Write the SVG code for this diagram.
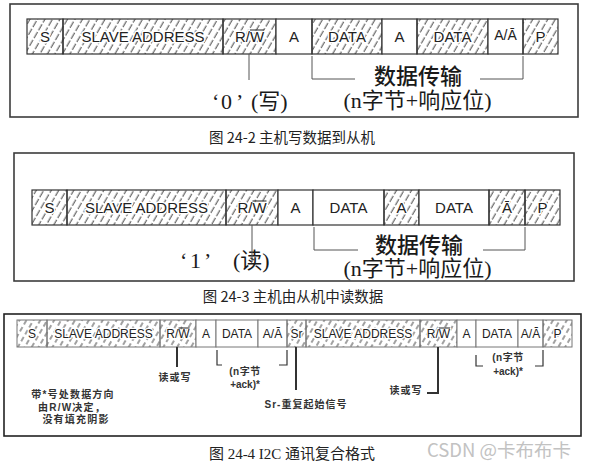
<svg xmlns="http://www.w3.org/2000/svg" width="590" height="467" viewBox="0 0 590 467">
<defs>
<pattern id="hatch" patternUnits="userSpaceOnUse" width="6.5" height="9" patternTransform="rotate(30)">
<line x1="3" y1="0" x2="3" y2="9" stroke="#444" stroke-width="1" stroke-dasharray="7 2"/>
</pattern>
<pattern id="hatch3" patternUnits="userSpaceOnUse" width="6" height="8" patternTransform="rotate(30)">
<line x1="3" y1="0" x2="3" y2="8" stroke="#444" stroke-width="1" stroke-dasharray="5 3"/>
</pattern>
</defs>
<style>
.frame{fill:none;stroke:#3c3c3c;stroke-width:1.6}
.hb{fill:url(#hatch);stroke:#333;stroke-width:1.2}
.wb{fill:#fff;stroke:#333;stroke-width:1.2}
.hb3{fill:url(#hatch3);stroke:#777;stroke-width:1}
.wb3{fill:#fff;stroke:#777;stroke-width:1}
.lbl{font-family:"Liberation Sans",Arial,sans-serif;font-size:15px;fill:#222;text-anchor:middle;stroke:#fff;stroke-width:3px;paint-order:stroke;stroke-linejoin:round}
.lbl3{font-family:"Liberation Sans",Arial,sans-serif;font-size:12px;fill:#222;text-anchor:middle;stroke:#fff;stroke-width:2.5px;paint-order:stroke;stroke-linejoin:round}
.ol{stroke:#222;stroke-width:1}
.conn{fill:none;stroke:#555;stroke-width:1}
.conn3{fill:none;stroke:#333;stroke-width:2}
.brk3{fill:none;stroke:#333;stroke-width:1.2}
.big{font-family:"Liberation Serif","Noto Sans CJK SC",serif;font-size:22px;fill:#1a1a1a}
.cjk{font-family:"Noto Sans CJK SC",sans-serif;font-size:22px;fill:#1a1a1a;text-anchor:middle;font-weight:500}
.cap{font-family:"Noto Sans CJK SC",sans-serif;font-size:14.5px;fill:#222;text-anchor:middle}
.note{font-family:"Liberation Sans","Noto Sans CJK SC",sans-serif;font-size:10px;font-weight:bold;fill:#333;text-anchor:middle;letter-spacing:1px}
.wm{font-family:"Noto Sans CJK SC",sans-serif;font-size:18.5px;fill:#c2c2c2;text-anchor:middle}
</style>
<rect x="0" y="0" width="590" height="467" fill="#fff"/>

<!-- Panel 1 -->
<g id="panel1">
<rect class="frame" x="10" y="4" width="568" height="113"/>
<g id="p1-s"><rect class="hb" x="27" y="19" width="36" height="35"/><text class="lbl" x="45" y="42">S</text></g>
<g id="p1-addr"><rect class="hb" x="63" y="19" width="160" height="35"/><text class="lbl" x="143" y="42">SLAVE ADDRESS</text></g>
<g id="p1-rw"><rect class="hb" x="223" y="19" width="53" height="35"/><text class="lbl" x="249.5" y="42">R/W</text><line class="ol" x1="250" y1="30" x2="264" y2="30"/></g>
<g id="p1-a1"><rect class="wb" x="276" y="19" width="36" height="35"/><text class="lbl" x="294" y="42">A</text></g>
<g id="p1-d1"><rect class="hb" x="312" y="19" width="70" height="35"/><text class="lbl" x="347" y="42">DATA</text></g>
<g id="p1-a2"><rect class="wb" x="382" y="19" width="35" height="35"/><text class="lbl" x="399.5" y="42">A</text></g>
<g id="p1-d2"><rect class="hb" x="417" y="19" width="71" height="35"/><text class="lbl" x="452.5" y="42">DATA</text></g>
<g id="p1-aa"><rect class="wb" x="488" y="19" width="35" height="35"/><text class="lbl" x="505.5" y="40" style="font-size:14px">A/Ā</text></g>
<g id="p1-p"><rect class="hb" x="523" y="19" width="35" height="35"/><text class="lbl" x="540.5" y="42">P</text></g>
<g id="p1-note0"><text class="big" x="212" y="109">‘<tspan x="221">0</tspan><tspan x="236">’</tspan><tspan x="251">(写)</tspan></text></g>
<g id="p1-data"><text class="cjk" x="418" y="84">数据传输</text><text class="big" x="417.5" y="108" text-anchor="middle">(n字节+响应位)</text></g>
</g>
<g id="p1-connectors">
<line class="conn" x1="249" y1="54" x2="249" y2="80"/>
<polyline class="conn" points="312,56 312,79 355,79"/>
<polyline class="conn" points="480,79 523,79 523,56"/>
</g>
<text class="cap" x="292" y="143">图 24-2 主机写数据到从机</text>

<!-- Panel 2 -->
<g id="panel2">
<rect class="frame" x="14" y="153" width="560" height="128"/>
<g id="p2-s"><rect class="hb" x="32" y="190" width="35" height="35"/><text class="lbl" x="49.5" y="213">S</text></g>
<g id="p2-addr"><rect class="hb" x="67" y="190" width="159" height="35"/><text class="lbl" x="146.5" y="213">SLAVE ADDRESS</text></g>
<g id="p2-rw"><rect class="hb" x="226" y="190" width="52" height="35"/><text class="lbl" x="252" y="213">R/W</text><line class="ol" x1="252.5" y1="201" x2="266.5" y2="201"/></g>
<g id="p2-a1"><rect class="wb" x="278" y="190" width="35" height="35"/><text class="lbl" x="295.5" y="213">A</text></g>
<g id="p2-d1"><rect class="wb" x="313" y="190" width="71" height="35"/><text class="lbl" x="348.5" y="213">DATA</text></g>
<g id="p2-a2"><rect class="hb" x="384" y="190" width="35" height="35"/><text class="lbl" x="401.5" y="213">A</text></g>
<g id="p2-d2"><rect class="wb" x="419" y="190" width="70" height="35"/><text class="lbl" x="454" y="213">DATA</text></g>
<g id="p2-na"><rect class="hb" x="489" y="190" width="36" height="35"/><text class="lbl" x="507" y="213">Ā</text></g>
<g id="p2-p"><rect class="hb" x="525" y="190" width="35" height="35"/><text class="lbl" x="542.5" y="213">P</text></g>
<g id="p2-note1"><text class="big" x="180" y="268">‘<tspan x="190">1</tspan><tspan x="204">’</tspan><tspan x="233">(读)</tspan></text></g>
<g id="p2-data"><text class="cjk" x="419" y="253">数据传输</text><text class="big" x="417.5" y="276" text-anchor="middle">(n字节+响应位)</text></g>
</g>
<g id="p2-connectors">
<line class="conn" x1="252" y1="225" x2="252" y2="262"/>
<polyline class="conn" points="314,227 314,250 358,250"/>
<polyline class="conn" points="483,250 525,250 525,227"/>
</g>
<text class="cap" x="293" y="302">图 24-3 主机由从机中读数据</text>

<!-- Panel 3 -->
<g id="panel3">
<rect class="frame" x="4" y="314" width="577" height="122" style="stroke:#222"/>
<g id="p3-s"><rect class="hb3" x="17" y="320" width="30" height="27"/><text class="lbl3" x="32" y="338">S</text></g>
<g id="p3-addr1"><rect class="hb3" x="47" y="320" width="113" height="27"/><text class="lbl3" x="103.5" y="338">SLAVE ADDRESS</text></g>
<g id="p3-rw1"><rect class="hb3" x="160" y="320" width="36" height="27"/><text class="lbl3" x="178" y="338">R/W</text><line class="ol" x1="178.5" y1="328" x2="189.5" y2="328"/></g>
<g id="p3-a1"><rect class="wb3" x="196" y="320" width="20" height="27"/><text class="lbl3" x="206" y="338">A</text></g>
<g id="p3-d1"><rect class="wb3" x="216" y="320" width="42" height="27"/><text class="lbl3" x="237" y="338">DATA</text></g>
<g id="p3-aa1"><rect class="wb3" x="258" y="320" width="29" height="27"/><text class="lbl3" x="272.5" y="338">A/Ā</text></g>
<g id="p3-sr"><rect class="hb3" x="287" y="320" width="19" height="27"/><text class="lbl3" x="296.5" y="338">Sr</text></g>
<g id="p3-addr2"><rect class="hb3" x="306" y="320" width="114" height="27"/><text class="lbl3" x="363" y="338">SLAVE ADDRESS</text></g>
<g id="p3-rw2"><rect class="hb3" x="420" y="320" width="37" height="27"/><text class="lbl3" x="438.5" y="338">R/W</text><line class="ol" x1="439" y1="328" x2="450" y2="328"/></g>
<g id="p3-a2"><rect class="wb3" x="457" y="320" width="19" height="27"/><text class="lbl3" x="466.5" y="338">A</text></g>
<g id="p3-d2"><rect class="wb3" x="476" y="320" width="42" height="27"/><text class="lbl3" x="497" y="338">DATA</text></g>
<g id="p3-aa2"><rect class="wb3" x="518" y="320" width="25" height="27"/><text class="lbl3" x="530.5" y="338">A/Ā</text></g>
<g id="p3-p"><rect class="hb3" x="543" y="320" width="29" height="27"/><text class="lbl3" x="557.5" y="338">P</text></g>
<g id="p3-rwnote1"><text class="note" x="175" y="381">读或写</text></g>
<g id="p3-n1"><text class="note" x="245" y="375" style="letter-spacing:0.5px">(n字节</text><text class="note" x="245" y="388" style="letter-spacing:0">+ack)*</text></g>
<g id="p3-srnote"><text class="note" x="306" y="408">Sr-重复起始信号</text></g>
<g id="p3-rwnote2"><text class="note" x="406" y="394">读或写</text></g>
<g id="p3-n2"><text class="note" x="508" y="361" style="letter-spacing:0.5px">(n字节</text><text class="note" x="508" y="375" style="letter-spacing:0">+ack)*</text></g>
<g id="p3-legend"><text class="note" x="73" y="398" style="letter-spacing:1.2px">带*号处数据方向</text><text class="note" x="72" y="411" style="letter-spacing:1.2px">由R/W决定，</text><text class="note" x="76" y="423" style="letter-spacing:1.2px">没有填充阴影</text></g>
</g>
<g id="p3-connectors">
<line class="conn3" x1="177" y1="347" x2="177" y2="367"/>
<polyline class="brk3" points="217,350 217,365 222,365"/>
<polyline class="brk3" points="279,365 287,365 287,350"/>
<line class="conn3" x1="296" y1="347" x2="296" y2="390"/>
<polyline class="conn3" points="438,347 438,393 427,393"/>
<polyline class="brk3" points="476,355 476,366 483,366"/>
<polyline class="brk3" points="535,366 543,366 543,350"/>
</g>
<text class="cap" x="292" y="459" style="font-family:'Liberation Serif','Noto Sans CJK SC',serif;font-size:15px">图 24-4 I2C 通讯复合格式</text>
<text class="wm" x="499" y="457">CSDN @卡布布卡</text>
</svg>
